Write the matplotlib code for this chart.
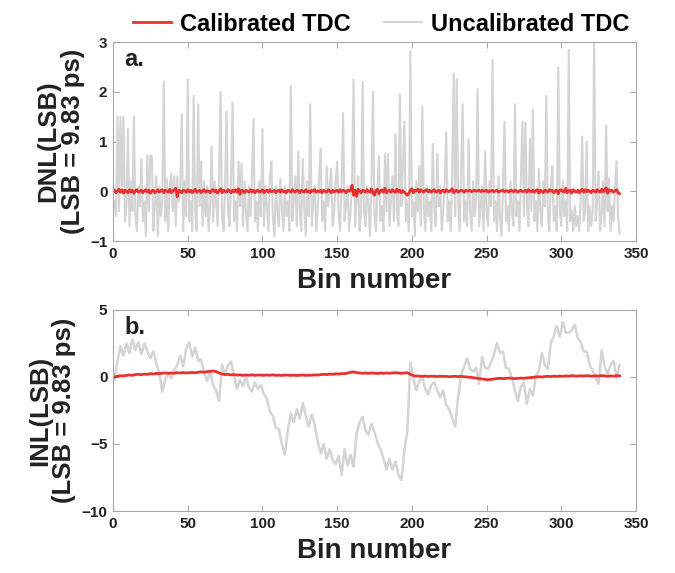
import numpy as np
import matplotlib
matplotlib.use('Agg')
import matplotlib.pyplot as plt
plt.rc('font', family=['Liberation Sans', 'DejaVu Sans'], weight='bold')

# DNL, uncalibrated (bins 1..339)
dnl_uncal = [
    -0.2, -0.5, 1.5, -0.4, 1.5, 0.1, 1.5, -0.6, -0.3, 1.25,
    -0.7, 0.2, -0.4, 1.5, -0.5, -0.8, 0.1, -0.3, 0.65, -0.6,
    -0.2, -0.9, 0.72, -0.4, 0.72, 0.7, -0.8, -0.3, 0.3, -0.9,
    0.1, -0.5, -0.2, 2.2, -0.6, 0.25, -0.8, 0.1, 0.35, -0.4,
    0.3, -0.7, 0.3, -0.2, 0.1, 1.55, -0.8, 0.2, -0.5, 2.25,
    -0.6, -0.2, -0.8, 1.92, -0.4, -0.8, 1.75, -0.3, 0.6, -0.7,
    0.2, -0.5, 0.1, -0.8, -0.3, 0.9, -0.6, 0.2, -0.2, -0.7,
    0.3, 2.0, -0.5, -0.8, 0.1, 1.6, -0.4, -0.7, 0.2, 1.78,
    -0.6, -0.2, -0.8, 0.6, -0.3, 0.55, -0.7, 0.2, -0.4, -0.8,
    0.1, -0.5, 0.3, 1.45, -0.6, -0.2, -0.8, 0.2, -0.5, 1.25,
    -0.7, 0.1, -0.3, -0.8, 0.3, 0.6, -0.5, -0.9, 0.1, -0.4,
    -0.7, 0.25, -0.3, -0.8, 0.1, -0.5, -0.2, -0.8, 2.12, -0.6,
    -0.2, 0.3, -0.7, 0.8, -0.4, -0.8, 0.65, -0.3, -0.9, 0.2,
    -0.5, 1.75, -0.7, -0.2, 0.1, -0.8, -0.4, 0.3, 0.85, -0.6,
    -0.2, -0.8, 0.5, -0.3, 0.1, 0.45, -0.7, -0.4, 0.2, 0.6,
    -0.5, -0.8, 0.2, 1.57, -0.6, -0.3, 0.1, -0.8, -0.4, 0.2,
    2.25, -0.7, -0.2, 0.3, -0.8, -0.5, 2.2, -0.4, -0.7, 0.1,
    -0.3, -0.9, 0.2, 2.0, -0.5, -0.8, 0.1, 0.7, -0.6, -0.3,
    -0.8, 0.75, -0.4, 0.75, -0.7, -0.2, 0.3, -0.6, 1.15, -0.4,
    -0.7, 1.95, -0.3, 0.5, 1.4, -0.6, -0.2, -0.8, 2.82, -0.5,
    -0.2, -0.9, 0.2, -0.4, 0.5, -0.7, 1.7, -0.3, -0.8, 0.1,
    -0.5, -0.2, -0.8, 0.95, -0.4, -0.7, 0.75, -0.3, 0.1, -0.8,
    -0.4, 0.2, 1.18, -0.6, -0.2, -0.8, 0.3, 2.37, -0.5, 2.25,
    -0.3, -0.8, 0.4, 1.75, -0.6, -0.2, -0.7, 1.05, -0.4, -0.8,
    0.2, -0.5, -0.2, 2.05, -0.7, -0.3, 0.1, -0.8, 0.8, -0.4,
    -0.7, 0.2, -0.3, 2.64, -0.6, -0.2, -0.8, 0.3, -0.5, -0.9,
    0.1, 1.4, -0.6, -0.3, -0.8, 0.2, -0.4, -0.7, 1.75, -0.5,
    -0.2, -0.8, 0.3, 1.4, -0.5, 1.38, -0.3, -0.7, 1.05, -0.4,
    1.64, -0.6, -0.2, -0.8, 0.45, -0.4, -0.7, 0.2, -0.3, 1.92,
    -0.5, -0.8, 0.1, 0.5, -0.6, -0.3, -0.8, 2.49, -0.4, -0.7,
    0.2, -0.5, -0.2, -0.8, 2.84, -0.6, -0.4, -0.8, -0.3, -0.7,
    -0.5, -0.8, -0.2, 1.1, -0.6, -0.4, 1.0, -0.8, -0.3, -0.7,
    -0.4, 3.0, -0.6, -0.2, 0.4, -0.8, -0.5, 0.2, -0.7, 1.33,
    -0.4, 0.25, -0.8, -0.3, -0.6, 0.1, 0.6, -0.5, -0.85,
]

# DNL, calibrated (bins 1..339)
dnl_cal = [
    0.02, -0.03, 0.01, 0.04, -0.02, 0.03, -0.04, 0.02, 0.0, -0.03,
    0.03, -0.01, 0.02, -0.04, 0.01, 0.03, -0.02, 0.0, 0.02, -0.03,
    0.01, 0.03, -0.02, 0.02, -0.04, 0.01, 0.02, -0.03, 0.0, 0.03,
    -0.02, 0.01, 0.03, -0.03, 0.02, 0.0, -0.02, 0.04, -0.03, 0.01,
    0.03, 0.06, -0.11, 0.02, 0.0, -0.03, 0.02, 0.01, -0.02, 0.03,
    -0.01, 0.02, -0.03, 0.01, 0.04, -0.02, 0.0, 0.02, -0.03, 0.01,
    0.03, -0.02, 0.01, 0.0, -0.03, 0.02, 0.03, -0.01, 0.02, -0.04,
    0.01, 0.05, -0.03, 0.02, 0.0, -0.02, 0.03, 0.01, -0.03, 0.02,
    -0.01, 0.03, -0.02, 0.05, -0.06, 0.02, 0.01, -0.03, 0.02, 0.0,
    -0.02, 0.03, -0.01, 0.02, -0.03, 0.01, 0.02, -0.02, 0.0, 0.03,
    -0.03, 0.01, 0.02, -0.02, 0.03, -0.01, 0.0, 0.02, -0.03, 0.01,
    0.02, -0.02, 0.03, -0.01, 0.0, -0.03, 0.02, 0.01, -0.02, 0.03,
    0.0, -0.02, 0.02, 0.01, -0.03, 0.02, 0.0, -0.02, 0.03, -0.01,
    0.01, -0.03, 0.02, 0.0, 0.03, -0.02, 0.01, -0.01, 0.02, -0.03,
    0.02, 0.0, -0.02, 0.03, 0.01, -0.03, 0.02, -0.01, 0.0, 0.02,
    -0.02, 0.03, -0.01, 0.02, 0.01, -0.03, 0.02, 0.0, 0.03, 0.12,
    -0.08, 0.02, -0.1, 0.04, 0.0, -0.03, 0.02, 0.01, -0.02, 0.03,
    0.0, -0.02, 0.05, -0.03, -0.08, 0.02, 0.04, -0.05, 0.01, 0.03,
    -0.02, 0.06, -0.03, 0.01, 0.02, -0.02, 0.03, 0.0, -0.02, 0.04,
    -0.01, 0.02, -0.03, 0.01, -0.02, -0.05, -0.08, -0.04, 0.02, 0.05,
    -0.03, 0.02, 0.01, 0.04, -0.02, 0.03, 0.0, -0.02, 0.02, 0.03,
    -0.01, 0.02, -0.02, 0.01, 0.03, -0.02, 0.0, 0.02, -0.03, 0.01,
    0.02, -0.02, 0.03, 0.0, -0.01, 0.02, 0.05, -0.03, 0.01, 0.02,
    -0.02, 0.0, 0.02, 0.01, -0.02, 0.02, 0.0, 0.01, 0.02, -0.01,
    0.01, 0.02, 0.0, 0.01, 0.02, -0.01, 0.02, 0.0, 0.01, 0.02,
    -0.02, 0.01, 0.0, 0.02, -0.01, 0.01, 0.02, -0.02, 0.0, 0.01,
    0.02, -0.01, 0.01, 0.0, -0.02, 0.02, 0.01, -0.01, 0.02, 0.0,
    -0.02, 0.01, 0.02, -0.01, 0.0, 0.02, -0.02, 0.03, 0.0, -0.01,
    0.02, -0.02, 0.01, 0.03, -0.04, 0.02, 0.0, -0.03, 0.02, 0.01,
    -0.02, 0.03, 0.0, 0.02, -0.03, 0.01, 0.02, -0.05, 0.02, 0.03,
    0.0, -0.02, 0.06, -0.03, 0.01, 0.02, -0.04, 0.03, 0.0, -0.02,
    0.02, -0.03, 0.01, 0.04, -0.02, 0.03, -0.01, 0.02, 0.0, -0.03,
    0.02, 0.01, -0.02, 0.03, 0.0, -0.02, 0.04, -0.01, 0.02, 0.07,
    -0.04, 0.03, 0.0, 0.02, -0.02, 0.01, 0.03, -0.03, -0.05,
]

# INL, sampled on odd bins 1..339
inl_bins = list(range(1, 340, 2))
inl_uncal = [
    -0.2, 1.2, 2.3, 1.6, 2.5, 1.8, 2.8, 2.0, 2.6, 1.7,
    2.5, 1.9, 1.4, 1.9, 1.0, 0.3, -1.1, -0.2, 0.3, -0.1,
    0.5, 0.9, 1.6, 0.8, 2.1, 2.6, 1.5, 2.2, 1.2, 1.3,
    0.3, -0.3, 0.4, -0.6, -1.0, -1.8, 0.9, 0.2, 0.9, 1.15,
    0.1, -0.9, -0.2, -0.7, 0.0, -0.8, -1.1, -0.4, -0.9, -0.6,
    -1.3, -1.6, -2.6, -2.9, -3.8, -3.9, -5.0, -5.8, -4.0, -2.7,
    -3.4, -2.4, -3.1, -1.95, -2.9, -3.7, -2.8, -3.6, -4.8, -5.7,
    -5.0, -6.1, -5.4, -6.2, -6.5, -5.9, -7.3, -5.4, -6.6, -5.8,
    -6.7, -4.2, -3.4, -2.96, -4.0, -4.3, -3.5, -4.1, -4.9, -5.4,
    -6.1, -6.9, -6.1, -6.9, -6.3, -7.3, -7.7, -5.5, -4.0, 1.1,
    -0.1, -1.0, -0.3, 0.0, -0.9, -1.3, -0.6, -0.4, -1.0, -1.5,
    -1.0, -2.1, -2.4, -3.1, -3.7, -1.5, 0.2, 0.77, 1.4, 0.6,
    0.4, 0.7, -0.5, 1.5, 0.7, 0.6, 1.1, 1.7, 2.54, 1.8,
    1.9, 0.7, 0.6, -0.1, -1.0, -1.8, -0.7, -0.4, -2.0, -0.9,
    -1.4, 0.1, 0.5, 1.8, 0.9, 0.6, 2.5, 3.1, 3.8, 3.0,
    4.1, 3.3, 3.3, 3.5, 3.9, 2.9, 2.6, 1.9, 1.9, 0.9,
    0.5, -0.1, -0.5, 2.0, 0.8, 0.2, 0.9, 1.2, -0.1, 0.9,
]
inl_cal = [
    0.0, 0.05, 0.1, 0.08, 0.12, 0.15, 0.12, 0.18, 0.2, 0.17,
    0.22, 0.2, 0.25, 0.22, 0.27, 0.25, 0.28, 0.3, 0.27, 0.3,
    0.28, 0.32, 0.3, 0.33, 0.3, 0.32, 0.34, 0.31, 0.35, 0.38,
    0.36, 0.4, 0.42, 0.45, 0.4, 0.3, 0.22, 0.18, 0.2, 0.15,
    0.18, 0.14, 0.16, 0.12, 0.15, 0.13, 0.16, 0.12, 0.15, 0.14,
    0.12, 0.15, 0.13, 0.16, 0.12, 0.14, 0.11, 0.15, 0.13, 0.12,
    0.14, 0.11, 0.13, 0.15, 0.12, 0.14, 0.13, 0.16, 0.14, 0.18,
    0.2, 0.18, 0.22, 0.2, 0.24, 0.22, 0.26, 0.24, 0.3, 0.35,
    0.38, 0.32, 0.3, 0.28, 0.3, 0.27, 0.3, 0.28, 0.26, 0.3,
    0.27, 0.3, 0.28, 0.3, 0.32, 0.3, 0.28, 0.3, 0.32, 0.2,
    0.1, 0.08, 0.06, 0.05, 0.07, 0.04, 0.06, 0.05, 0.03, 0.06,
    0.04, 0.05, 0.02, 0.04, 0.05, 0.03, 0.05, 0.02, 0.0, -0.02,
    -0.05, -0.08, -0.12, -0.15, -0.18, -0.2, -0.18, -0.15, -0.12, -0.1,
    -0.12, -0.1, -0.08, -0.1, -0.12, -0.1, -0.08, -0.1, -0.07, -0.05,
    -0.02, 0.0, 0.02, 0.0, 0.03, 0.05, 0.03, 0.06, 0.04, 0.07,
    0.05, 0.08, 0.06, 0.1, 0.08, 0.06, 0.09, 0.07, 0.1, 0.08,
    0.06, 0.09, 0.07, 0.1, 0.08, 0.05, 0.08, 0.06, 0.1, 0.08,
]

dnl_bins = list(range(1, len(dnl_uncal) + 1))

red = '#e8302e'
gray = '#d4d4d4'
spine_col = '#a8a8a8'
txt_col = '#222222'

fig = plt.figure(figsize=(6.75, 5.73), dpi=100)
ax1 = fig.add_axes([0.1674, 0.5794, 0.7748, 0.3473])
ax2 = fig.add_axes([0.1674, 0.1082, 0.7748, 0.3508])

l_unc, = ax1.plot(dnl_bins, dnl_uncal, color=gray, lw=1.5, label='Uncalibrated TDC')
l_cal, = ax1.plot(dnl_bins, dnl_cal, color=red, lw=2.0, label='Calibrated TDC')
ax2.plot(inl_bins, inl_uncal, color=gray, lw=1.8)
ax2.plot(inl_bins, inl_cal, color=red, lw=2.0)

ax1.set_ylim(-1, 3)
ax1.set_yticks([-1, 0, 1, 2, 3])
ax2.set_ylim(-10, 5)
ax2.set_yticks([-10, -5, 0, 5])

for ax, lab, yl in [(ax1, 'a.', 'DNL(LSB)\n(LSB = 9.83 ps)'),
                    (ax2, 'b.', 'INL(LSB)\n(LSB = 9.83 ps)')]:
    ax.set_xlim(0, 350)
    ax.set_xticks(range(0, 351, 50))
    ax.tick_params(direction='in', top=True, right=True, length=4,
                   color=spine_col, labelsize=11, pad=4)
    for lbl in ax.get_xticklabels() + ax.get_yticklabels():
        lbl.set_fontweight('bold')
        lbl.set_color(txt_col)
    for s in ax.spines.values():
        s.set_color(spine_col)
    ax.set_xlabel('Bin number', fontsize=20, fontweight='bold', color=txt_col, labelpad=5)
    ax.set_ylabel(yl, fontsize=18.5, fontweight='bold', color=txt_col, labelpad=4,
                  linespacing=1.0)
    ax.text(0.022, 0.97, lab, transform=ax.transAxes, fontsize=17,
            fontweight='bold', color=txt_col, va='top', ha='left')

fig.legend([l_cal, l_unc], ['Calibrated TDC', 'Uncalibrated TDC'],
           loc='upper center', bbox_to_anchor=(0.565, 1.015), ncol=2,
           frameon=False, handlelength=1.6, handletextpad=0.4,
           columnspacing=1.4, prop={'weight': 'bold', 'size': 17})

plt.savefig('out.png', dpi=100)
